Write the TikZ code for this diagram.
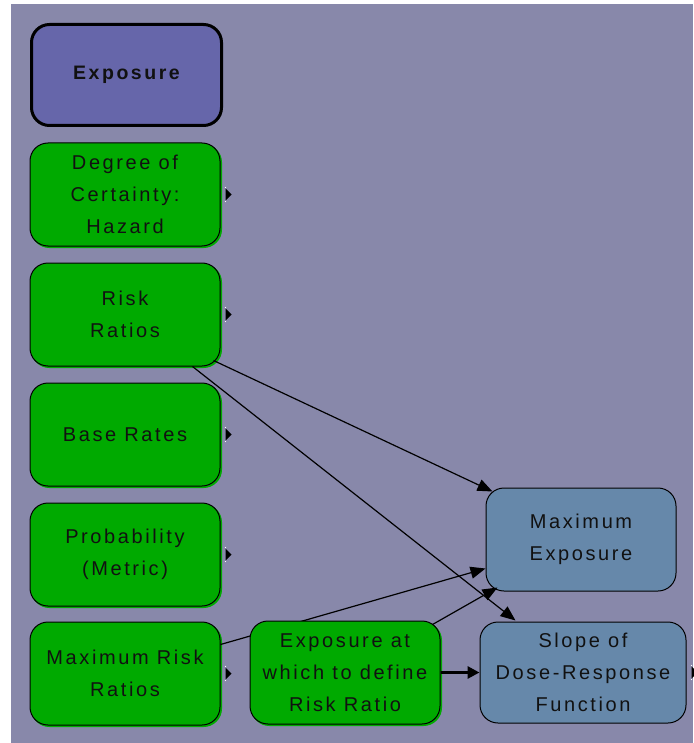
\documentclass[tikz,border=0pt]{standalone}
\usepackage{fontspec}
\usetikzlibrary{arrows.meta,calc}
\newfontfamily\labfont[LetterSpace=13]{Liberation Sans}
\definecolor{bgc}{RGB}{136,136,170}
\definecolor{expc}{RGB}{102,102,170}
\definecolor{grn}{RGB}{0,170,0}
\definecolor{blu}{RGB}{102,136,170}
\definecolor{txt}{RGB}{17,17,17}
\tikzset{
  box/.style={rectangle, rounded corners=18pt, draw=black, line width=1pt,
    align=center, inner sep=0pt, text=txt,
    font=\labfont\fontsize{20}{32}\selectfont},
  gbox/.style={box, fill=grn, minimum width=190pt, minimum height=103pt,
    preaction={draw=grn, fill=grn, line width=1pt, transform canvas={shift={(1.5pt,-1.5pt)}}}},
  bbox/.style={box, fill=blu, minimum width=190pt, minimum height=103pt},
  ebox/.style={box, fill=expc, line width=3pt, minimum width=190pt, minimum height=101pt,
    font=\labfont\bfseries\fontsize{19.5}{32}\selectfont},
  conn/.style={draw=black, line width=1.2pt, -{Triangle[length=15pt,width=12pt]}},
  thick conn/.style={draw=black, line width=3pt, -{Triangle[length=12pt,width=12pt]}},
  icon/.style={fill=black, draw=none}
}
\begin{document}
\begin{tikzpicture}[x=1pt,y=-1pt]
\useasboundingbox (0,0) rectangle (693,743);
\fill[white] (0,0) rectangle (693,743);
\fill[bgc] (11,4) rectangle (693,743);

\path
  node[ebox] (ex) at (126.5,75) {Exposure}
  node[gbox] (dc) at (125,194.5) {Degree of\\Certainty:\\Hazard}
  node[gbox] (rr) at (125,314.5) {Risk\\Ratios}
  node[gbox] (br) at (125,434.5) {Base Rates}
  node[gbox] (pm) at (125,554.5) {Probability\\(Metric)}
  node[gbox] (mrr) at (125,673.5) {Maximum Risk\\Ratios}
  node[bbox] (me) at (581,539.5) {Maximum\\Exposure}
  node[bbox, minimum width=206pt, minimum height=101pt] (sl) at (583,672.5) {Slope of\\Dose-Response\\Function};

% connectors behind the "Exposure at" node
\draw[conn] ($(rr.south east)+(-7,-6)$) -- ($(me.north west)+(7,4)$);
\draw[conn] ($(rr.south east)+(-28,0)$) -- ($(sl.north west)+(36,-1)$);
\draw[conn] ($(mrr.north east)+(0,23)$) -- ($(me.south west)+(0,-23)$);

\node[gbox] (ea) at (345,672.5) {Exposure at\\which to define\\Risk Ratio};

\draw[conn] ($(ea.north east)+(-8,4)$) -- ($(me.south west)+(12,-4)$);
\draw[thick conn] (ea.east) -- (sl.west);

% small icons at right of nodes
\foreach \n in {dc,rr,br,pm,mrr,sl}{
  \fill[icon] ($(\n.east)+(5,-6)$) -- ($(\n.east)+(11,0)$) -- ($(\n.east)+(5,6)$) -- cycle;
  \fill[white] ($(\n.east)+(5,-7)$) circle (0.7pt);
  \fill[white] ($(\n.east)+(5,7)$) circle (0.7pt);
}
\end{tikzpicture}
\end{document}
